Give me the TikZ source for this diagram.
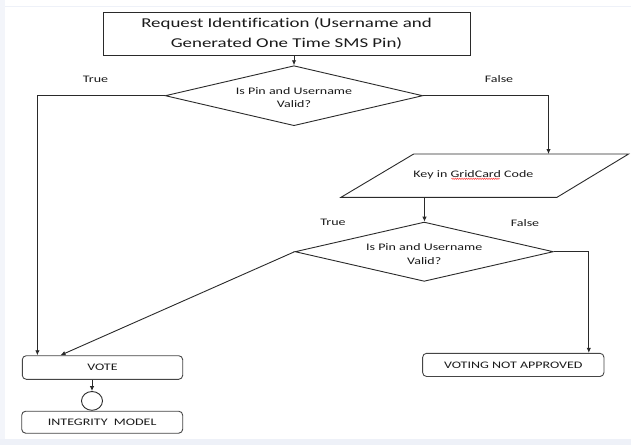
\documentclass[tikz,border=0pt]{standalone}
\usepackage{fontspec}
\setmainfont{Carlito}[Ligatures=NoCommon]
\usetikzlibrary{shapes.geometric,arrows.meta,decorations.pathmorphing}
\definecolor{ink}{HTML}{1A1A1A}
\definecolor{edge}{HTML}{2A2A2A}
\definecolor{boxedge}{HTML}{454545}
\definecolor{pane}{HTML}{EEF1F8}
\newcommand{\wtxt}[1]{\scalebox{1.4}[1]{#1}}
\tikzset{
  conn/.style={draw=edge, line width=0.9pt, -{Latex[length=5pt,width=4.5pt]}},
  plain/.style={draw=edge, line width=0.9pt},
  decide/.style={diamond, draw=edge, line width=0.9pt, inner sep=0pt, text=ink,
     font=\fontsize{10}{14}\selectfont, align=center},
  roundbox/.style={rectangle, rounded corners=4pt, draw=boxedge, line width=0.9pt,
     inner sep=0pt, text=ink, font=\fontsize{10}{12}\selectfont},
  lbl/.style={text=ink, font=\fontsize{10}{12}\selectfont, inner sep=0pt},
}
\begin{document}
\begin{tikzpicture}[x=1pt,y=-1pt]
\useasboundingbox (0,0) rectangle (631,445);
% page background
\fill[white] (0,0) rectangle (631,445);
\fill[pane!70!white] (0,0) rectangle (4.5,445);
\fill[pane] (0,439) rectangle (631,445);
\draw[pane, line width=0.8pt] (5,6) -- (631,6);

% top box
\node[rectangle, draw=edge, line width=0.9pt, minimum width=367pt, minimum height=42.7pt,
      inner sep=0pt, text=ink, align=center, font=\fontsize{13.5}{20}\selectfont]
  (req) at (286.5,33.7) {\wtxt{Request Identification (Username and}\\\wtxt{Generated One Time SMS Pin)}};

% decision 1
\node[decide, minimum width=257.5pt, minimum height=60pt] (d1) at (294,95.7) {};
\node[lbl, align=center, font=\fontsize{10}{13.6}\selectfont] (d1t) at (294,97.7) {\wtxt{Is Pin and Username}\\\wtxt{Valid?}};

% parallelogram
\coordinate (pa) at (341,197.3);
\coordinate (pb) at (557,197.3);
\coordinate (pc) at (628.6,154);
\coordinate (pd) at (413.7,154);
\draw[plain] (pa) -- (pb) -- (pc) -- (pd) -- cycle;
\node[lbl] (key) at (473.4,174.5) {\wtxt{Key in GridCard Code}};
\coordinate (keyin) at (548.5,154);
\coordinate (keyout) at (424.5,197.3);
\draw[red!75!white, line width=0.4pt, decorate,
      decoration={snake, amplitude=0.7pt, segment length=1.8pt}] (451.5,178.8) -- (500,178.8);

% decision 2
\node[decide, minimum width=258.3pt, minimum height=59.3pt] (d2) at (424.2,251.7) {};
\node[lbl, align=center, font=\fontsize{10}{14}\selectfont] (d2t) at (424.2,253.9) {\wtxt{Is Pin and Username}\\\wtxt{Valid?}};

% end boxes
\node[roundbox, minimum width=160.4pt, minimum height=23.6pt] (vote) at (102.5,367.5) {\wtxt{VOTE}};
\node[draw=edge, line width=0.9pt, ellipse, minimum width=21pt, minimum height=18.8pt, inner sep=0pt] (con) at (92,400.9) {};
\node[roundbox, minimum width=161pt, minimum height=22pt] (integ) at (102.2,422.2) {\wtxt{INTEGRITY\ \ MODEL}};
\node[roundbox, minimum width=181.3pt, minimum height=23.2pt] (nov) at (513.3,364.9) {\wtxt{VOTING NOT APPROVED}};

% labels
\node[lbl] (t1) at (95.5,79) {\wtxt{True}};
\node[lbl] (f1) at (499,79) {\wtxt{False}};
\node[lbl] (t2) at (333,222.7) {\wtxt{True}};
\node[lbl] (f2) at (525,222.7) {\wtxt{False}};

% connectors
\draw[conn] (req.south -| d1.north) -- (d1.north);
\draw[conn] (d1.west) -| (vote.north -| 37.4,0);
\draw[conn] (d1.east) -| (keyin);
\draw[conn] (keyout) -- (keyout |- d2.north);
\draw[conn] (d2.east) -| (nov.north -| 588.8,0);
\draw[conn] (d2.west) -- (vote.north -| 60.5,0);
\draw[conn] (vote.south -| con.north) -- (con.north);
\end{tikzpicture}
\end{document}
